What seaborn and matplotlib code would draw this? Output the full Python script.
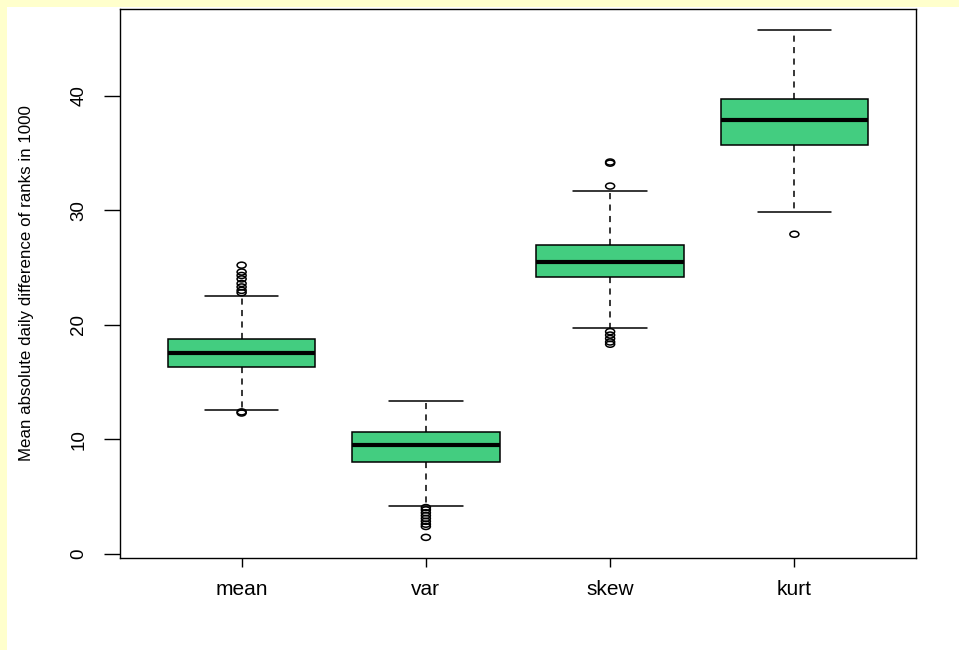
import matplotlib
matplotlib.use("Agg")
import matplotlib.pyplot as plt
from matplotlib.path import Path
from matplotlib.markers import MarkerStyle
import numpy as np
import pandas as pd
import seaborn as sns

# Five-number summaries per statistic: lower whisker, Q1, median, Q3, upper whisker
stats = ["mean", "var", "skew", "kurt"]
mean_box = [12.6, 16.3, 17.5, 18.8, 22.5]
var_box = [4.15, 8.05, 9.5, 10.6, 13.35]
skew_box = [19.7, 24.15, 25.5, 27.0, 31.65]
kurt_box = [29.8, 35.7, 37.9, 39.7, 45.7]

# Points beyond the whiskers
mean_out = [22.8, 23.0, 23.3, 23.6, 24.0, 24.3, 24.6, 25.2, 12.4, 12.3]
var_out = [4.05, 3.85, 3.6, 3.35, 3.1, 2.85, 2.6, 2.4, 1.45]
skew_out = [32.1, 34.1, 34.2, 19.4, 19.1, 18.8, 18.5, 18.3]
kurt_out = [27.9]

y_ticks = [0, 10, 20, 30, 40]
y_label = "Mean absolute daily difference of ranks in 1000"

box_df = pd.DataFrame({
    "stat": np.repeat(stats, 5),
    "value": mean_box + var_box + skew_box + kurt_box,
})
out_df = pd.DataFrame({
    "stat": ["mean"] * len(mean_out) + ["var"] * len(var_out)
            + ["skew"] * len(skew_out) + ["kurt"] * len(kurt_out),
    "value": mean_out + var_out + skew_out + kurt_out,
})

sns.set_style("white")
plt.rcParams["font.family"] = ["Liberation Sans", "DejaVu Sans"]
for key in ("text.color", "axes.labelcolor", "xtick.color", "ytick.color"):
    plt.rcParams[key] = "black"

W, H = 959, 650
fig = plt.figure(figsize=(W / 100, H / 100), dpi=100)
fig.patch.set_facecolor("#FFFFCC")

# White page area inside the yellow frame
bg = fig.add_axes([7 / W, 0, 1 - 7 / W, 1 - 7 / H], zorder=-1)
bg.set_facecolor("white")
bg.set_xticks([])
bg.set_yticks([])
for s in bg.spines.values():
    s.set_visible(False)

ax = fig.add_axes([120 / W, (H - 558) / H, 796 / W, 549 / H])
ax.set_facecolor("white")

green = "#43CD80"
sns.boxplot(data=box_df, x="stat", y="value", order=stats, ax=ax,
            color=green, saturation=1, linecolor="black", linewidth=1.1,
            width=0.8, whis=(0, 100), showfliers=False,
            medianprops=dict(linewidth=3.0, color="black", solid_capstyle="butt"),
            whiskerprops=dict(linewidth=1.1, linestyle=(0, (4, 3.5)), color="black"),
            capprops=dict(linewidth=1.1, color="black"),
            boxprops=dict(edgecolor="black", linewidth=1.1))

n_before = len(ax.collections)

# Slightly flattened open circles for the outliers
circ = Path.unit_circle()
ell = Path(circ.vertices * np.array([1.5, 1.0]), circ.codes)
sns.stripplot(data=out_df, x="stat", y="value", order=stats, ax=ax,
              jitter=False, marker=MarkerStyle(ell), size=6.5,
              color="black", edgecolor="black", linewidth=1.0, zorder=5)
for coll in ax.collections[n_before:]:
    coll.set_facecolor("none")
    coll.set_edgecolor("black")
    coll.set_linewidth(1.1)

ax.set_xlim(-0.66, 3.66)
ax.set_ylim(-0.35, 47.55)
ax.set_yticks(y_ticks)
ax.set_yticklabels([str(t) for t in y_ticks], rotation=90, va="center",
                   fontsize=13.5)
ax.set_xticks(range(len(stats)))
ax.set_xticklabels(stats, fontsize=15)
ax.set_xlabel("")
ax.set_ylabel(y_label, fontsize=12.2)
ax.yaxis.set_label_coords((27 - 120) / 796, 0.5)
ax.yaxis.label.set_va("center")

ax.tick_params(axis="y", direction="out", length=11.5, width=1.0, color="black",
               pad=12, left=True)
ax.tick_params(axis="x", direction="out", length=6.5, width=1.0, color="black",
               pad=9, bottom=True)
for s in ax.spines.values():
    s.set_visible(True)
    s.set_color("black")
    s.set_linewidth(1.0)

fig.savefig("out.png", dpi=100, facecolor=fig.get_facecolor())
